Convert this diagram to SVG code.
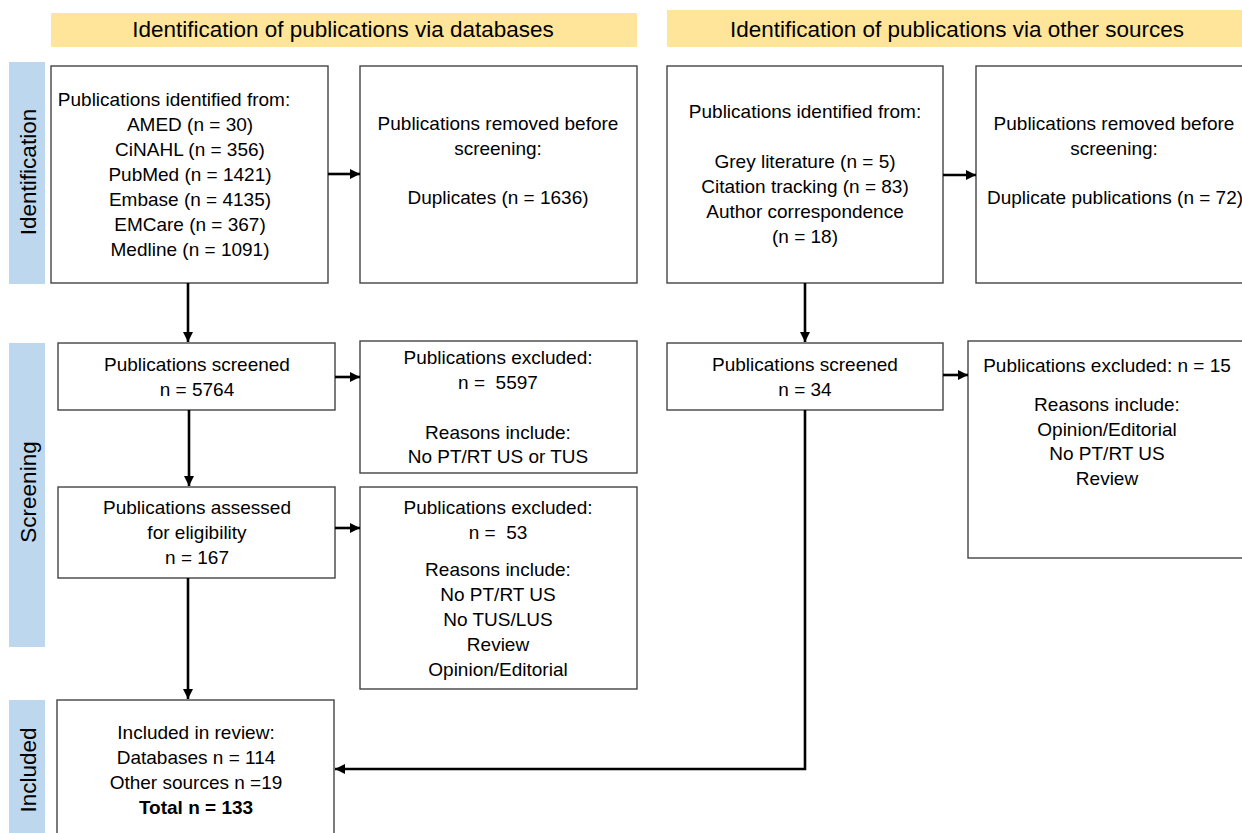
<svg xmlns="http://www.w3.org/2000/svg" width="1242" height="833" viewBox="0 0 1242 833">
<style>
.t{font-family:"Liberation Sans",Arial,sans-serif;font-size:19px;fill:#000;text-anchor:middle}
.h{font-family:"Liberation Sans",Arial,sans-serif;font-size:22.5px;fill:#000;text-anchor:middle}
.s{font-family:"Liberation Sans",Arial,sans-serif;font-size:22.5px;fill:#000;text-anchor:middle}
.box{fill:#fff;stroke:#444;stroke-width:1.4}
.hdr{fill:#FFE599}
.side{fill:#BDD7EE}
.c{fill:none;stroke:#000;stroke-width:2.6}
</style>
<defs>
<marker id="ah" markerUnits="userSpaceOnUse" markerWidth="10" markerHeight="10" viewBox="0 0 10 10" refX="10" refY="5" orient="auto">
<path d="M0,0 L10,5 L0,10 z" fill="#000"/>
</marker>
</defs>
<rect width="1242" height="833" fill="#fff"/>
<g id="header-databases">
<rect class="hdr" x="51" y="13" width="586" height="34"/>
<text class="h" x="343" y="37">Identification of publications via databases</text>
</g>
<g id="header-other">
<rect class="hdr" x="667" y="10" width="580" height="37"/>
<text class="h" x="957" y="37">Identification of publications via other sources</text>
</g>
<g id="side-identification">
<rect class="side" x="9" y="62" width="36" height="222"/>
<text class="s" transform="translate(36,172) rotate(-90)">Identification</text>
</g>
<g id="side-screening">
<rect class="side" x="9" y="343" width="36" height="304"/>
<text class="s" transform="translate(36,492) rotate(-90)">Screening</text>
</g>
<g id="side-included">
<rect class="side" x="9" y="700" width="36" height="140"/>
<text class="s" transform="translate(36,770) rotate(-90)">Included</text>
</g>
<g id="db-identified">
<rect class="box" x="51" y="66" width="277" height="217"/>
<text class="t" x="174" y="106">Publications identified from:</text>
<text class="t" x="190" y="131">AMED (n = 30)</text>
<text class="t" x="190" y="156">CiNAHL (n = 356)</text>
<text class="t" x="190" y="181">PubMed (n = 1421)</text>
<text class="t" x="190" y="206">Embase (n = 4135)</text>
<text class="t" x="190" y="231">EMCare (n = 367)</text>
<text class="t" x="190" y="256">Medline (n = 1091)</text>
</g>
<g id="db-removed">
<rect class="box" x="360" y="66" width="277" height="217"/>
<text class="t" x="498" y="130">Publications removed before</text>
<text class="t" x="498" y="155">screening:</text>
<text class="t" x="498" y="204">Duplicates (n = 1636)</text>
</g>
<g id="other-identified">
<rect class="box" x="667" y="66" width="276" height="217"/>
<text class="t" x="805" y="118">Publications identified from:</text>
<text class="t" x="805" y="168">Grey literature (n = 5)</text>
<text class="t" x="805" y="193">Citation tracking (n = 83)</text>
<text class="t" x="805" y="218">Author correspondence</text>
<text class="t" x="805" y="243">(n = 18)</text>
</g>
<g id="other-removed">
<rect class="box" x="976" y="66" width="280" height="217"/>
<text class="t" x="1114" y="130">Publications removed before</text>
<text class="t" x="1114" y="155">screening:</text>
<text class="t" x="1115" y="204">Duplicate publications (n = 72)</text>
</g>
<g id="db-screened">
<rect class="box" x="58" y="343" width="277" height="67"/>
<text class="t" x="197" y="371">Publications screened</text>
<text class="t" x="197" y="396">n = 5764</text>
</g>
<g id="db-excluded-1">
<rect class="box" x="360" y="341" width="277" height="132"/>
<text class="t" x="498" y="364">Publications excluded:</text>
<text class="t" x="498" y="389" xml:space="preserve">n =  5597</text>
<text class="t" x="498" y="439">Reasons include:</text>
<text class="t" x="498" y="463">No PT/RT US or TUS</text>
</g>
<g id="db-assessed">
<rect class="box" x="58" y="487" width="277" height="91"/>
<text class="t" x="197" y="514">Publications assessed</text>
<text class="t" x="197" y="539">for eligibility</text>
<text class="t" x="197" y="564">n = 167</text>
</g>
<g id="db-excluded-2">
<rect class="box" x="360" y="487" width="277" height="202"/>
<text class="t" x="498" y="514">Publications excluded:</text>
<text class="t" x="498" y="539" xml:space="preserve">n =  53</text>
<text class="t" x="498" y="576">Reasons include:</text>
<text class="t" x="498" y="601">No PT/RT US</text>
<text class="t" x="498" y="626">No TUS/LUS</text>
<text class="t" x="498" y="651">Review</text>
<text class="t" x="498" y="676">Opinion/Editorial</text>
</g>
<g id="other-screened">
<rect class="box" x="667" y="343" width="276" height="67"/>
<text class="t" x="805" y="371">Publications screened</text>
<text class="t" x="805" y="396">n = 34</text>
</g>
<g id="other-excluded">
<rect class="box" x="968" y="341" width="290" height="217"/>
<text class="t" x="1107" y="372">Publications excluded: n = 15</text>
<text class="t" x="1107" y="411">Reasons include:</text>
<text class="t" x="1107" y="436">Opinion/Editorial</text>
<text class="t" x="1107" y="460">No PT/RT US</text>
<text class="t" x="1107" y="485">Review</text>
</g>
<g id="included">
<rect class="box" x="57" y="700" width="277" height="140"/>
<text class="t" x="196" y="739">Included in review:</text>
<text class="t" x="196" y="764">Databases n = 114</text>
<text class="t" x="196" y="789">Other sources n =19</text>
<text class="t" x="196" y="814" font-weight="bold">Total n = 133</text>
</g>
<g id="connectors">
<path class="c" d="M328,174 H360" marker-end="url(#ah)"/>
<path class="c" d="M943,175 H976" marker-end="url(#ah)"/>
<path class="c" d="M188,283 V342" marker-end="url(#ah)"/>
<path class="c" d="M805,283 V342" marker-end="url(#ah)"/>
<path class="c" d="M335,377 H360" marker-end="url(#ah)"/>
<path class="c" d="M943,375 H968" marker-end="url(#ah)"/>
<path class="c" d="M189,410 V486" marker-end="url(#ah)"/>
<path class="c" d="M335,528 H360" marker-end="url(#ah)"/>
<path class="c" d="M188,578 V699" marker-end="url(#ah)"/>
<path class="c" d="M805,410 V769 H335" marker-end="url(#ah)"/>
</g>
</svg>
